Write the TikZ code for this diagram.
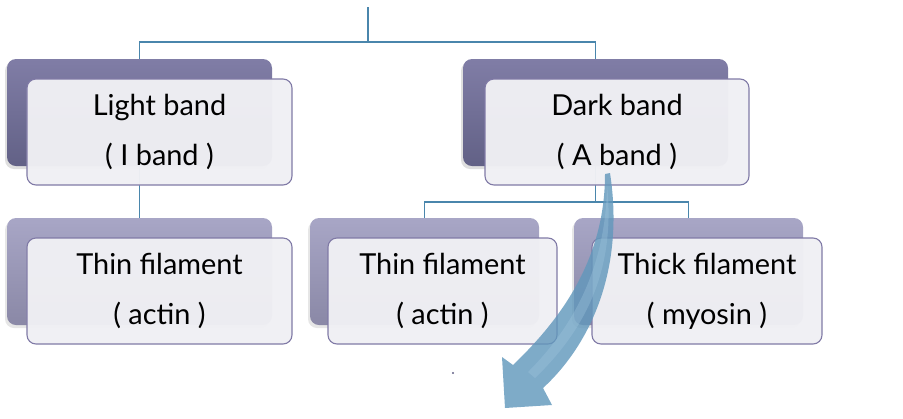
\documentclass[tikz,border=0pt]{standalone}
\usepackage{fontspec}
\setmainfont{Lato}
\usetikzlibrary{shadows,backgrounds}
\definecolor{lineblue}{RGB}{74,134,172}
\definecolor{backTopA}{RGB}{128,125,166}
\definecolor{backBotA}{RGB}{98,97,134}
\definecolor{backTopB}{RGB}{168,166,198}
\definecolor{backBotB}{RGB}{138,136,166}
\definecolor{frontfill}{RGB}{240,240,244}
\definecolor{frontdraw}{RGB}{128,122,166}
\definecolor{arrowblue}{RGB}{98,152,188}
\definecolor{arrowlight}{RGB}{160,198,222}
\tikzset{
  backA/.style={rounded corners=9bp, top color=backTopA, bottom color=backBotA, draw=none,
    drop shadow={shadow xshift=-2bp, shadow yshift=-3bp, opacity=0.25}},
  backB/.style={rounded corners=9bp, top color=backTopB, bottom color=backBotB, draw=none,
    drop shadow={shadow xshift=-2bp, shadow yshift=-3bp, opacity=0.2}},
  frontbox/.style={rounded corners=9bp, draw=frontdraw, line width=1.1bp,
    fill=frontfill, fill opacity=0.97, text opacity=1, align=center,
    font=\fontsize{29}{50}\selectfont, text=black},
  conn/.style={draw=lineblue, line width=1.4bp}
}
\begin{document}
\begin{tikzpicture}[x=1bp,y=-1bp]
\useasboundingbox (0,0) rectangle (903,418);
% back boxes
\path[backA] (7,59) rectangle (272,166) node[pos=0.5,inner sep=0] (lbB) {};
\path[backA] (463,59) rectangle (728,166) node[pos=0.5,inner sep=0] (dbB) {};
\path[backB] (7,218) rectangle (272,325) node[pos=0.5,inner sep=0] (t1B) {};
\path[backB] (310,218) rectangle (539,325) node[pos=0.5,inner sep=0] (t2B) {};
\path[backB] (574,218) rectangle (803,325) node[pos=0.5,inner sep=0] (t3B) {};
\coordinate (lbBn) at (139.5,59);  \coordinate (lbBs) at (139.5,166);
\coordinate (dbBn) at (595.5,59);  \coordinate (dbBs) at (595.5,166);
\coordinate (t1Bn) at (139.5,218);
\coordinate (t2Bn) at (424.5,218);
\coordinate (t3Bn) at (688.5,218);
\coordinate (root) at (368,7);
\coordinate (j1) at (368,42);
\coordinate (j2) at (595.5,202);
% connectors (behind)
\begin{scope}[on background layer]
\draw[conn] (root) -- (j1);
\draw[conn] (lbBn) |- (j1) -| (dbBn);
\draw[conn] (lbBs) -- (t1Bn);
\draw[conn] (dbBs) -- (j2);
\draw[conn] (t2Bn) |- (j2) -| (t3Bn);
\end{scope}
% front boxes
\node[frontbox, minimum width=265bp, minimum height=106bp] (lb) at (159.5,132) {Light band\\( I band )};
\node[frontbox, minimum width=264bp, minimum height=106bp] (db) at (617,132) {Dark band\\( A band )};
\node[frontbox, minimum width=265bp, minimum height=106bp] (t1) at (159.5,291) {Thin filament\\( actin )};
\node[frontbox, minimum width=229bp, minimum height=106bp] (t2) at (442.5,291) {Thin filament\\( actin )};
\node[frontbox, minimum width=230bp, minimum height=106bp] (t3) at (707,291) {Thick filament\\( myosin )};
% curved arrow
\fill[arrowblue, fill opacity=0.82]
  (605,174) -- (610,173)
  .. controls (625,270) and (590,345) .. (543,388)
  -- (552,405) -- (505,408) -- (502,357) -- (513,365)
  .. controls (560,320) and (605,260) .. (605,174) -- cycle;
\fill[arrowlight, fill opacity=0.35]
  (607,185) .. controls (616,270) and (585,330) .. (535,378)
  -- (528,372) .. controls (575,325) and (606,265) .. (607,185) -- cycle;
% dot
\node[circle, fill=backBotA, inner sep=0, minimum size=2.2bp] (dot) at (453,373) {};
\end{tikzpicture}
\end{document}
